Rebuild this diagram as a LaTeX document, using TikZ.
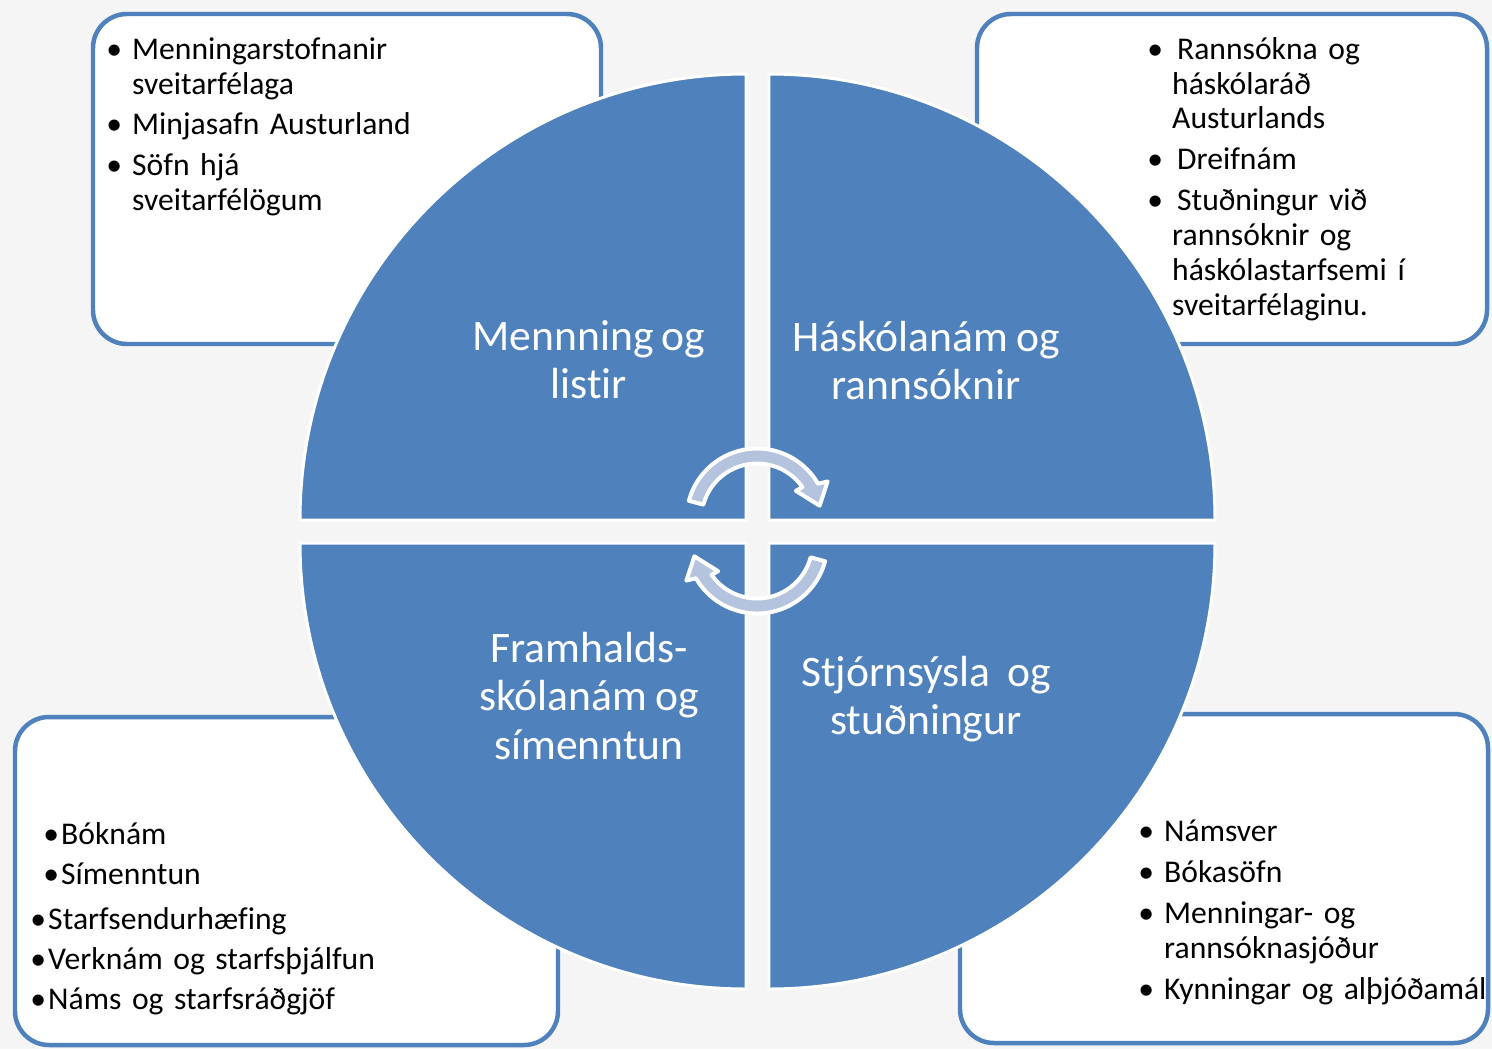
\documentclass[tikz,border=0pt]{standalone}
\usepackage{fontspec}
\setmainfont{Carlito}[Ligatures=NoCommon, WordSpace=0.85]
\usepackage{tikz}

\definecolor{quadblue}{RGB}{79,129,189}
\definecolor{arrowblue}{RGB}{180,196,222}
\definecolor{pagegray}{RGB}{245,245,245}

\newlength{\px}
\setlength{\px}{0.5669pt}
\newcommand{\bitem}[3][0pt]{\par\hangindent=\dimexpr#1+#2\relax\hangafter=1\noindent\hspace*{#1}\hbox to #2{\hss\textbullet\hss}\strut#3\par}

\tikzset{
  infobox/.style={draw=quadblue, fill=white, line width=2.55pt, rounded corners=0.68cm},
  quadrant/.style={fill=quadblue, draw=white, line width=1.7pt},
  cyclearrow/.style={fill=arrowblue, draw=white, line width=2.27pt, line join=round},
  listtext/.style={anchor=north west, inner sep=0pt, text=black,
    font=\fontsize{18}{19.84}\selectfont},
  biglabel/.style={anchor=north, inner sep=0pt, align=center, text=white,
    font=\fontsize{24.8}{27.6}\selectfont}
}

\begin{document}
\begin{tikzpicture}[x=0.02cm,y=-0.02cm]
            \useasboundingbox (0,0) rectangle (1492,1049);
            \fill[pagegray] (0,0) rectangle (1492,1049);
            % boxes behind the circle
            \draw[infobox] (93,14) rectangle (601,344);
            \draw[infobox] (977,14) rectangle (1487,344);
            \draw[infobox] (15,717) rectangle (558,1045);
            \draw[infobox] (960,714) rectangle (1488,1043);
            % four quarters
            \draw[quadrant] (746,520) -- ++(180:446) arc[start angle=180, end angle=270, radius=446] -- cycle;
            \draw[quadrant] (769,520) -- ++(270:446) arc[start angle=270, end angle=360, radius=446] -- cycle;
            \draw[quadrant] (769,543) -- ++(0:446) arc[start angle=0, end angle=90, radius=446] -- cycle;
            \draw[quadrant] (746,543) -- ++(90:446) arc[start angle=90, end angle=180, radius=446] -- cycle;
            % quarter titles
            \node[biglabel] (culture) at (589,316) {\strut Mennning og\\listir};
            \node[biglabel] (university) at (926,317) {\strut Háskólanám og\\rannsóknir};
            \node[biglabel] (college) at (589,628) {\strut Framhalds-\\skólanám og\\símenntun};
            \node[biglabel] (admin) at (926,652) {\strut Stjórnsýsla~ og\\stuðningur};
            % lists
            \node[listtext, text width=8cm] (culturelist) at (96,18) {\raggedright\setlength{\parskip}{6\px}%
              \bitem{36\px}{Menningarstofnanir\newline sveitarfélaga}
              \bitem{36\px}{Minjasafn Austurland}
              \bitem{36\px}{Söfn hjá\newline sveitarfélögum}};
            \node[listtext, text width=6.4cm] (universitylist) at (1138,18) {\raggedright\setlength{\parskip}{6\px}%
              \bitem{34\px}{\hspace*{5\px}Rannsókna og\newline háskólaráð\newline Austurlands}
              \bitem{34\px}{\hspace*{5\px}Dreifnám}
              \bitem{34\px}{\hspace*{5\px}Stuðningur við\newline rannsóknir og\newline háskólastarfsemi í\newline sveitarfélaginu.}};
            \node[listtext, text width=9cm] (collegelist) at (28,804.5) {\raggedright\setlength{\parskip}{5\px}%
              \bitem[13\px]{20\px}{Bóknám}
              \bitem[13\px]{20\px}{Símenntun}
              \vspace{5\px}
              \bitem{20\px}{Starfsendurhæfing}
              \bitem{20\px}{Verknám og starfsþjálfun}
              \bitem{20\px}{Náms og starfsráðgjöf}};
            \node[listtext, text width=8cm] (adminlist) at (1128,800.5) {\raggedright\setlength{\parskip}{6\px}%
              \bitem{36\px}{Námsver}
              \bitem{36\px}{Bókasöfn}
              \bitem{36\px}{Menningar- og\newline rannsóknasjóður}
              \bitem{36\px}{Kynningar og alþjóðamál}};
            % cycle arrows
            \begin{scope}[shift={(757,519)}, yscale=-1]
              \draw[cyclearrow] (165:70.5) arc[start angle=165, end angle=30, radius=70.5] -- (28:80) -- (12:64) -- (36:48) -- (35:55.5) arc[start angle=35, end angle=165, radius=55.5] -- cycle;
            \end{scope}
            \begin{scope}[shift={(757,543)}, yscale=-1, rotate=180]
              \draw[cyclearrow] (165:70.5) arc[start angle=165, end angle=30, radius=70.5] -- (28:80) -- (12:64) -- (36:48) -- (35:55.5) arc[start angle=35, end angle=165, radius=55.5] -- cycle;
            \end{scope}
        \end{tikzpicture}
\end{document}
